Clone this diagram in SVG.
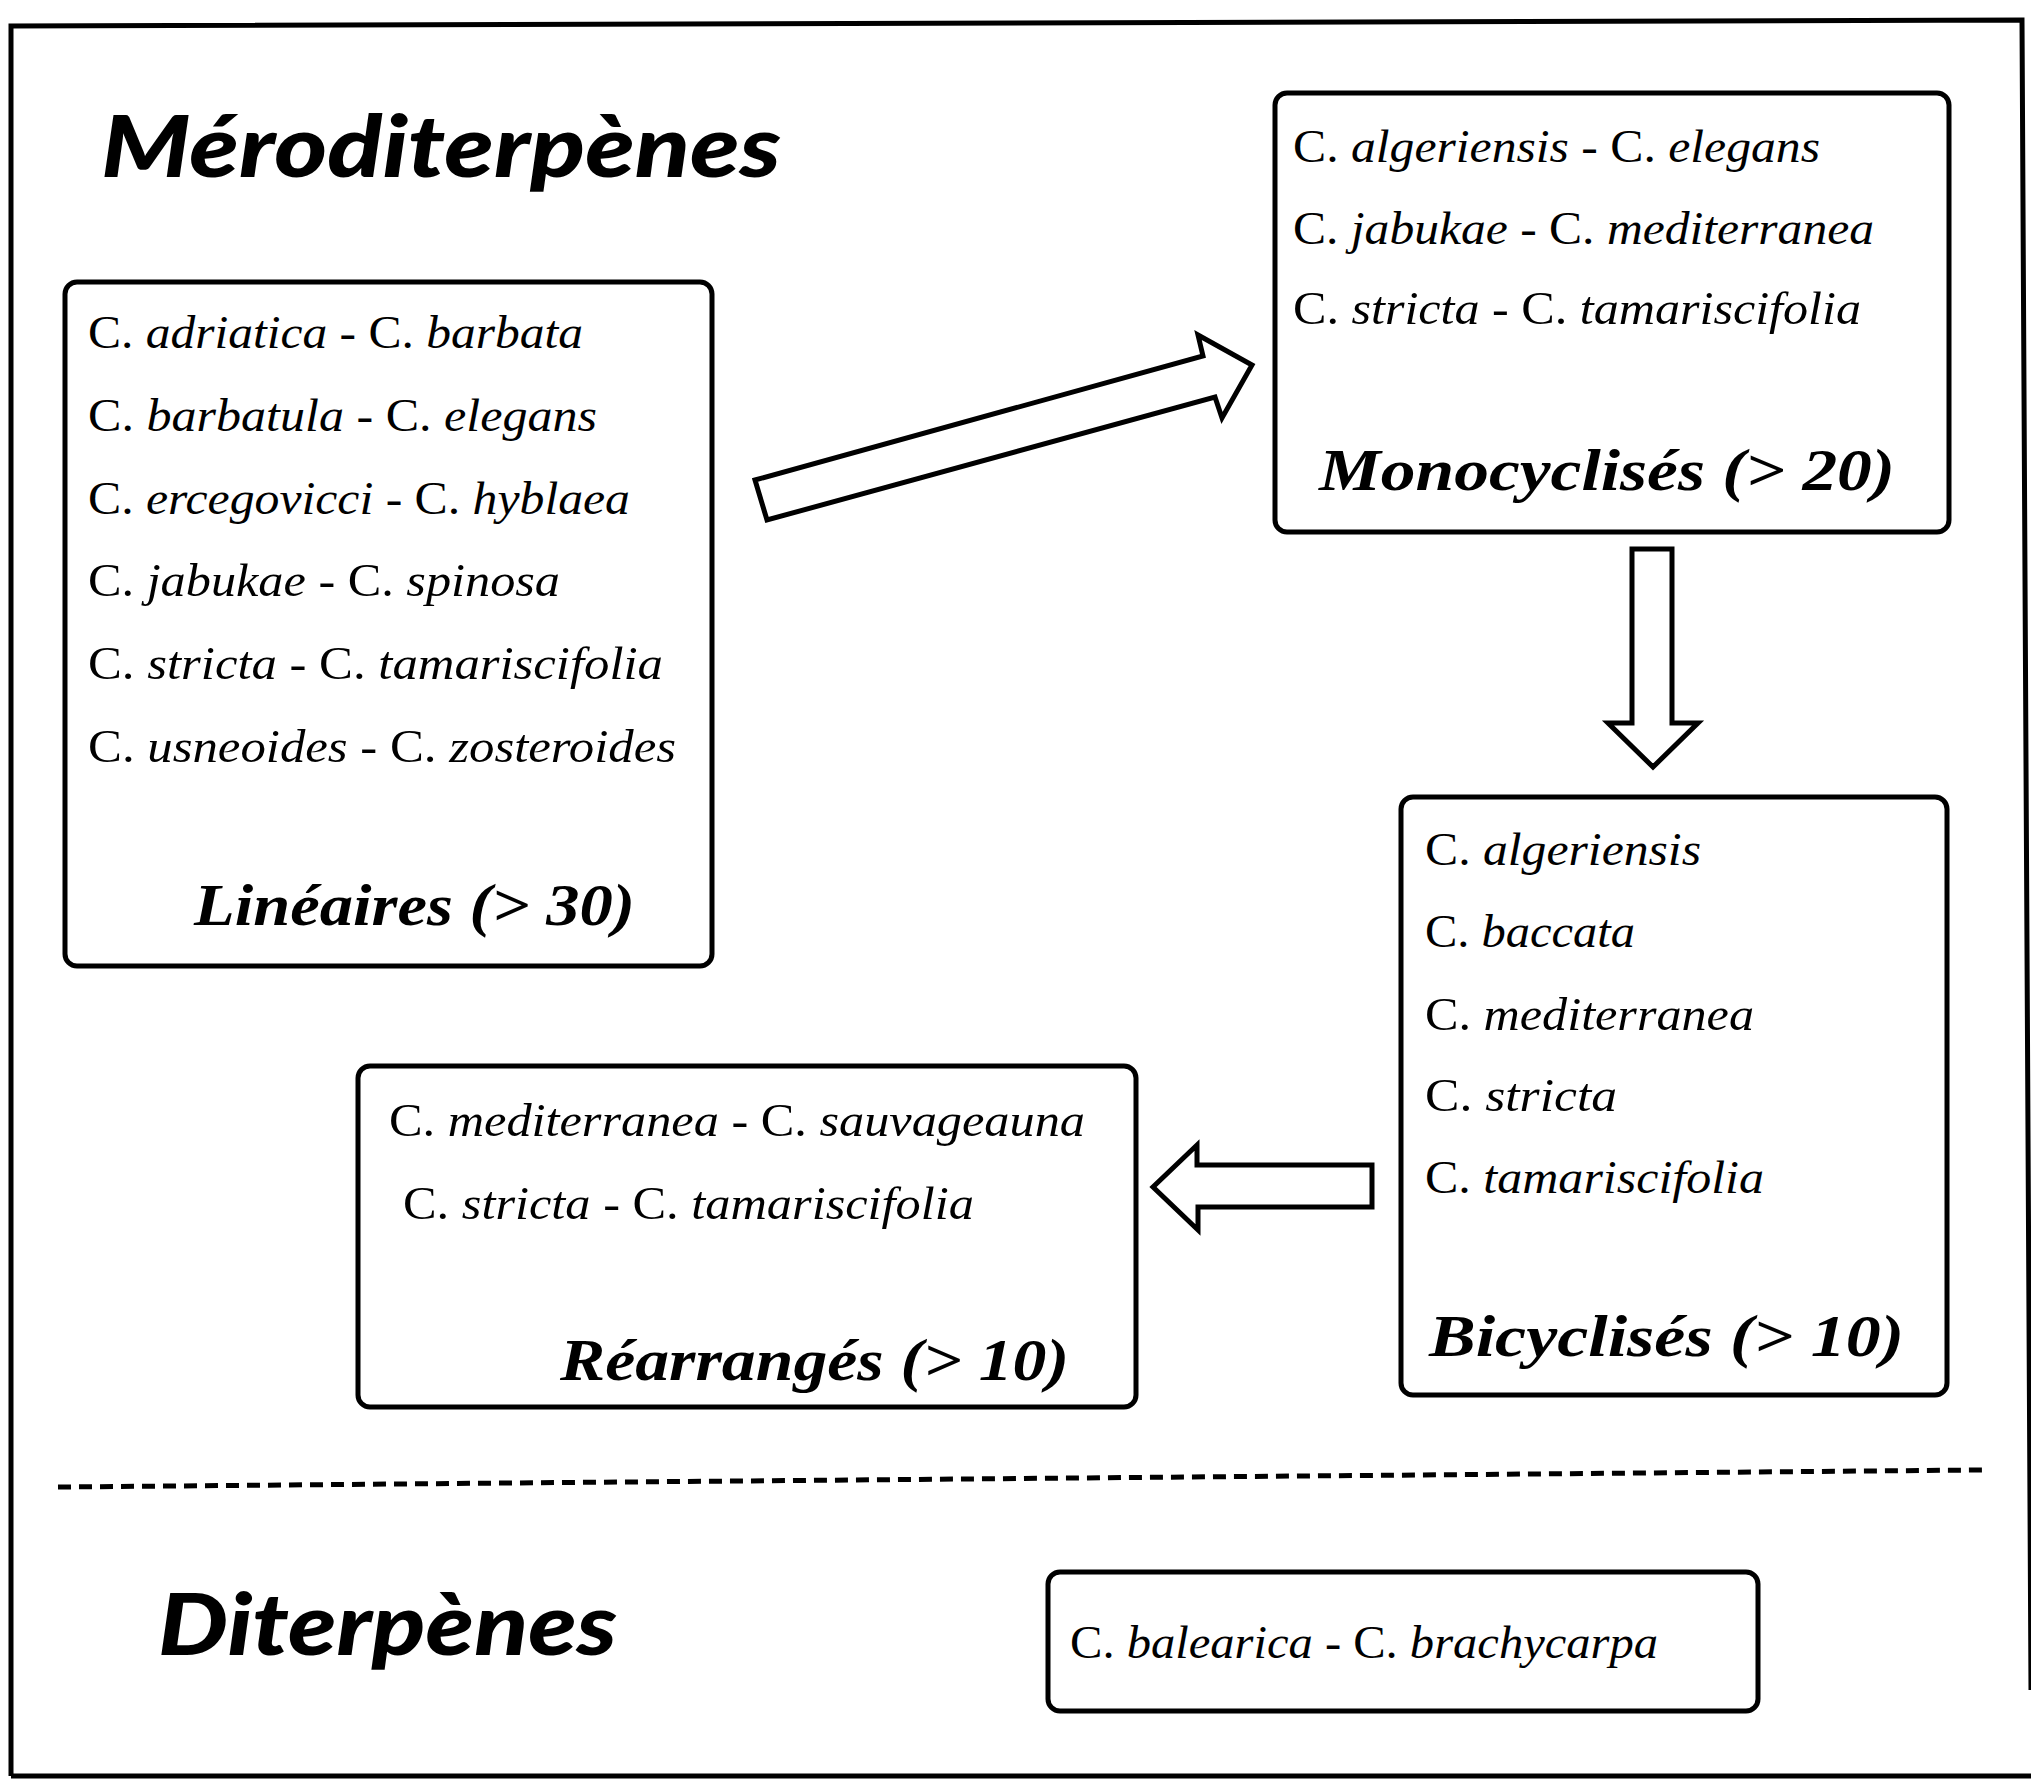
<svg xmlns="http://www.w3.org/2000/svg" width="2031" height="1783" viewBox="0 0 2031 1783">
<style>
.box{fill:#fff;stroke:#000;stroke-width:5}
.arr{fill:#fff;stroke:#000;stroke-width:5;stroke-linejoin:miter}
.sp{font-family:"Liberation Serif",serif;font-size:46px;fill:#000}
.sp tspan.i{font-style:italic}
.lab{font-family:"Liberation Serif",serif;font-size:60px;font-style:italic;font-weight:bold;fill:#000}
.ttl{font-family:Lato,"Noto Sans",sans-serif;font-size:86px;font-style:italic;font-weight:900;fill:#000}
</style>
<rect width="2031" height="1783" fill="#fff"/>
<path d="M11,1776 L11,26 L2022,20 L2031,1690 M11,1776 L2031,1776" fill="none" stroke="#000" stroke-width="5"/>

<text class="ttl" x="101" y="177" textLength="680" lengthAdjust="spacingAndGlyphs">Méroditerpènes</text>
<text class="ttl" x="158" y="1655" textLength="459" lengthAdjust="spacingAndGlyphs">Diterpènes</text>

<g id="lineaires">
<rect class="box" x="65" y="282" width="647" height="684" rx="12"/>
<text class="sp" x="88" y="348" textLength="495" lengthAdjust="spacingAndGlyphs">C. <tspan class="i">adriatica</tspan> - C. <tspan class="i">barbata</tspan></text>
<text class="sp" x="88" y="431" textLength="509" lengthAdjust="spacingAndGlyphs">C. <tspan class="i">barbatula</tspan> - C. <tspan class="i">elegans</tspan></text>
<text class="sp" x="88" y="514" textLength="542" lengthAdjust="spacingAndGlyphs">C. <tspan class="i">ercegovicci</tspan> - C. <tspan class="i">hyblaea</tspan></text>
<text class="sp" x="88" y="596" textLength="472" lengthAdjust="spacingAndGlyphs">C. <tspan class="i">jabukae</tspan> - C. <tspan class="i">spinosa</tspan></text>
<text class="sp" x="88" y="679" textLength="575" lengthAdjust="spacingAndGlyphs">C. <tspan class="i">stricta</tspan> - C. <tspan class="i">tamariscifolia</tspan></text>
<text class="sp" x="88" y="762" textLength="588" lengthAdjust="spacingAndGlyphs">C. <tspan class="i">usneoides</tspan> - C. <tspan class="i">zosteroides</tspan></text>
<text class="lab" x="194" y="925" textLength="441" lengthAdjust="spacingAndGlyphs">Linéaires (&gt; 30)</text>
</g>

<g id="monocyclises">
<rect class="box" x="1275" y="93" width="674" height="439" rx="12"/>
<text class="sp" x="1293" y="162" textLength="527" lengthAdjust="spacingAndGlyphs">C. <tspan class="i">algeriensis</tspan> - C. <tspan class="i">elegans</tspan></text>
<text class="sp" x="1293" y="244" textLength="581" lengthAdjust="spacingAndGlyphs">C. <tspan class="i">jabukae</tspan> - C. <tspan class="i">mediterranea</tspan></text>
<text class="sp" x="1293" y="324" textLength="568" lengthAdjust="spacingAndGlyphs">C. <tspan class="i">stricta</tspan> - C. <tspan class="i">tamariscifolia</tspan></text>
<text class="lab" x="1319" y="490" textLength="576" lengthAdjust="spacingAndGlyphs">Monocyclisés  (&gt; 20)</text>
</g>

<g id="bicyclises">
<rect class="box" x="1401" y="797" width="546" height="598" rx="12"/>
<text class="sp" x="1425" y="865" textLength="276" lengthAdjust="spacingAndGlyphs">C. <tspan class="i">algeriensis</tspan></text>
<text class="sp" x="1425" y="947" textLength="210" lengthAdjust="spacingAndGlyphs">C. <tspan class="i">baccata</tspan></text>
<text class="sp" x="1425" y="1030" textLength="329" lengthAdjust="spacingAndGlyphs">C. <tspan class="i">mediterranea</tspan></text>
<text class="sp" x="1425" y="1111" textLength="192" lengthAdjust="spacingAndGlyphs">C. <tspan class="i">stricta</tspan></text>
<text class="sp" x="1425" y="1193" textLength="339" lengthAdjust="spacingAndGlyphs">C. <tspan class="i">tamariscifolia</tspan></text>
<text class="lab" x="1429" y="1356" textLength="475" lengthAdjust="spacingAndGlyphs">Bicyclisés  (&gt; 10)</text>
</g>

<g id="rearranges">
<rect class="box" x="358" y="1066" width="778" height="341" rx="12"/>
<text class="sp" x="389" y="1136" textLength="696" lengthAdjust="spacingAndGlyphs">C. <tspan class="i">mediterranea</tspan> - C. <tspan class="i">sauvageauna</tspan></text>
<text class="sp" x="403" y="1219" textLength="571" lengthAdjust="spacingAndGlyphs">C. <tspan class="i">stricta</tspan> - C. <tspan class="i">tamariscifolia</tspan></text>
<text class="lab" x="560" y="1380" textLength="509" lengthAdjust="spacingAndGlyphs">Réarrangés  (&gt; 10)</text>
</g>

<g id="diterpenes">
<rect class="box" x="1048" y="1572" width="710" height="139" rx="12"/>
<text class="sp" x="1070" y="1658" textLength="588" lengthAdjust="spacingAndGlyphs">C. <tspan class="i">balearica</tspan> - C. <tspan class="i">brachycarpa</tspan></text>
</g>

<g id="connectors">
<polygon class="arr" points="755,480 1203,356 1198,335 1252,365 1222,418 1215,397 767,520"/>
<polygon class="arr" points="1632,549 1672,549 1672,723 1698,723 1653,767 1608,723 1632,723"/>
<polygon class="arr" points="1372,1165 1197,1165 1197,1145 1153,1187 1198,1230 1198,1207 1372,1207"/>
<line x1="58" y1="1487" x2="1982" y2="1470" stroke="#000" stroke-width="5" stroke-dasharray="13 8"/>
</g>
</svg>
